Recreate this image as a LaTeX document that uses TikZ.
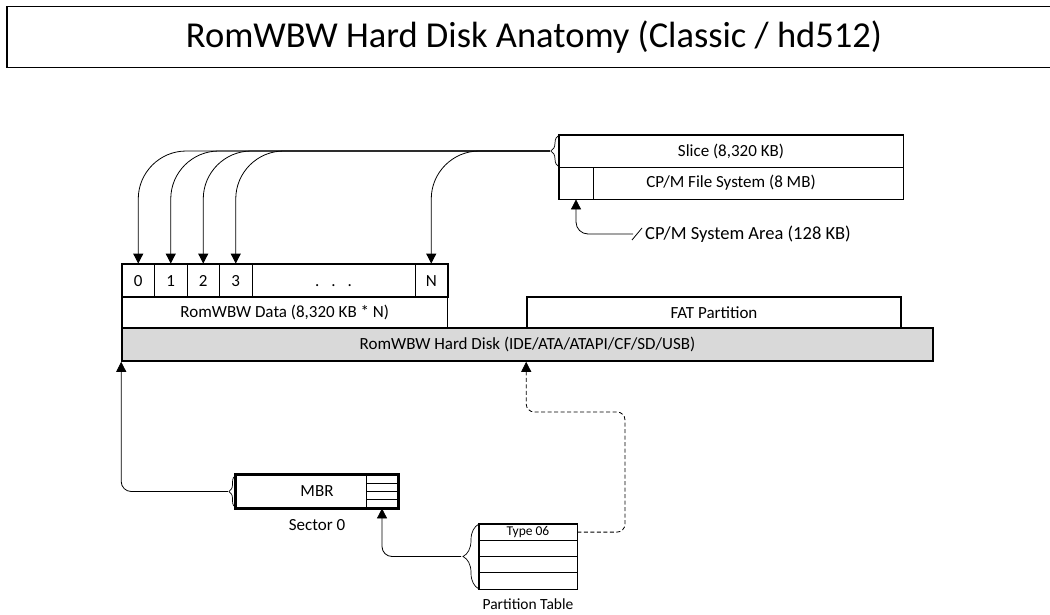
\documentclass[tikz,border=0pt]{standalone}
\usepackage{fontspec}
\setmainfont{Carlito}
\usetikzlibrary{arrows.meta,decorations.pathreplacing}

\begin{document}
\begin{tikzpicture}[x=1pt, y=-1pt,
  >={Triangle[width=10pt,length=10pt]},
  every node/.style={font=\fontsize{17}{19}\selectfont},
  box/.style={draw, line width=0.8pt, inner sep=0pt},
  cellbox/.style={box, minimum width=32.5pt, minimum height=33pt, text height=11pt, text depth=0pt},
  outline/.style={line width=1.6pt},
  link/.style={line width=0.8pt},
  curly/.style={decorate, decoration={brace,amplitude=#1}, line width=0.7pt}]

\useasboundingbox (0,0) rectangle (1050,615);

%%%%%%%%%%%%%%%%%%%%%%%%%%%%%%%%%%%%%%%%%%%%%%%%%%%%%%%%%%%%%%%%
% Title
%%%%%%%%%%%%%%%%%%%%%%%%%%%%%%%%%%%%%%%%%%%%%%%%%%%%%%%%%%%%%%%%

\node[draw, line width=1.2pt, minimum width=1054pt, minimum height=61pt, font=\fontsize{36.5}{42}\selectfont] (title) at (534,37) {RomWBW Hard Disk Anatomy (Classic / hd512)};

%%%%%%%%%%%%%%%%%%%%%%%%%%%%%%%%%%%%%%%%%%%%%%%%%%%%%%%%%%%%%%%%
% Slice
%%%%%%%%%%%%%%%%%%%%%%%%%%%%%%%%%%%%%%%%%%%%%%%%%%%%%%%%%%%%%%%%

\node[box, minimum width=344pt, minimum height=32pt] (slice) at (731,151) {Slice (8,320 KB)};
\node[box, minimum width=344pt, minimum height=32pt] (cpmfs) at (731,183) {CP/M File System (8 MB)};
\node[box, minimum width=34pt, minimum height=32pt] (sysarea) at (576,183) {};
\draw[outline] (slice.north west) rectangle (cpmfs.south east);

% Brace
\draw[curly=8pt] (559,167) -- (559,135);
\coordinate (slicetip) at (550,151);

% System area callout
\coordinate (syshook) at (633,234);
\draw[link,->,rounded corners=12pt] (syshook) -| (sysarea.south);
\draw[link] ([shift={(-1,6)}]syshook) -- ([shift={(9,-6)}]syshook);
\node[anchor=west, inner sep=0pt, font=\fontsize{18.5}{20}\selectfont] (syslabel) at (645,234) {CP/M System Area (128 KB)};

%%%%%%%%%%%%%%%%%%%%%%%%%%%%%%%%%%%%%%%%%%%%%%%%%%%%%%%%%%%%%%%%
% Disk layout
%%%%%%%%%%%%%%%%%%%%%%%%%%%%%%%%%%%%%%%%%%%%%%%%%%%%%%%%%%%%%%%%

% Slice cells
\foreach \i in {0,1,2,3}
  \node[cellbox] (cell\i) at ({138.25+32.5*\i},280.5) {\i};
\node[cellbox, minimum width=163pt] (celldots) at (333.5,280.5) {.\hspace{12pt}.\hspace{12pt}.};
\node[cellbox] (cellN) at (431.25,280.5) {N};
\draw[outline] (cell0.north west) rectangle (cellN.south east);

% Areas
\node[box, outline, minimum width=325.5pt, minimum height=31pt] (data) at (284.75,312.5) {RomWBW Data (8,320 KB * N)};
\node[box, outline, minimum width=374pt, minimum height=31pt] (fat) at (714,312.5) {FAT Partition};
\node[box, outline, fill=black!15, minimum width=811pt, minimum height=33pt] (disk) at (527.5,344.5) {RomWBW Hard Disk (IDE/ATA/ATAPI/CF/SD/USB)};

% Edges
\foreach \c in {cell0,cell1,cell2,cell3,cellN}
  \draw[link,->,rounded corners=48pt] (slicetip) -| (\c.north);

%%%%%%%%%%%%%%%%%%%%%%%%%%%%%%%%%%%%%%%%%%%%%%%%%%%%%%%%%%%%%%%%
% MBR
%%%%%%%%%%%%%%%%%%%%%%%%%%%%%%%%%%%%%%%%%%%%%%%%%%%%%%%%%%%%%%%%

\node[box, outline, minimum width=162pt, minimum height=33pt] (mbr) at (317,491.5) {MBR};
\node[box, minimum width=32pt, minimum height=33pt] (mbrtab) at (382,491.5) {};
\draw[outline] (mbr.north west) rectangle (mbr.south east);
\foreach \y in {483.25,491.5,499.75}
  \draw[line width=0.8pt] (366,\y) -- (398,\y);
\node[] (sector) at (317,525) {Sector 0};

% Brace
\draw[curly=7pt] (236,508) -- (236,475);
\coordinate (mbrtip) at (228,491.5);

% Edge
\draw[link,->,rounded corners=10pt] (mbrtip) -| (disk.south west);

%%%%%%%%%%%%%%%%%%%%%%%%%%%%%%%%%%%%%%%%%%%%%%%%%%%%%%%%%%%%%%%%
% Partition table
%%%%%%%%%%%%%%%%%%%%%%%%%%%%%%%%%%%%%%%%%%%%%%%%%%%%%%%%%%%%%%%%

\node[box, minimum width=98pt, minimum height=16.25pt, font=\fontsize{13.5}{15}\selectfont] (pt1) at (528,532.1) {Type 06};
\foreach \i/\y in {2/548.4,3/564.6,4/580.9}
  \node[box, minimum width=98pt, minimum height=16.25pt] (pt\i) at (528,\y) {};
\draw[outline] (pt1.north west) rectangle (pt4.south east);
\node[font=\fontsize{15.5}{17}\selectfont] (ptlabel) at (528,604) {Partition Table};

% Brace
\draw[curly=16pt] (479,589) -- (479,524);
\coordinate (pttip) at (461,556.5);

% Edges
\draw[link,->,rounded corners=10pt] (pttip) -| (mbrtab.south);
\coordinate (dashbend) at (625,412);
\draw[link,dashed,dash pattern=on 4pt off 2.5pt,->,rounded corners=8pt] (pt1.east) -| (dashbend) -| (disk.south -| fat.west);

\end{tikzpicture}
\end{document}
